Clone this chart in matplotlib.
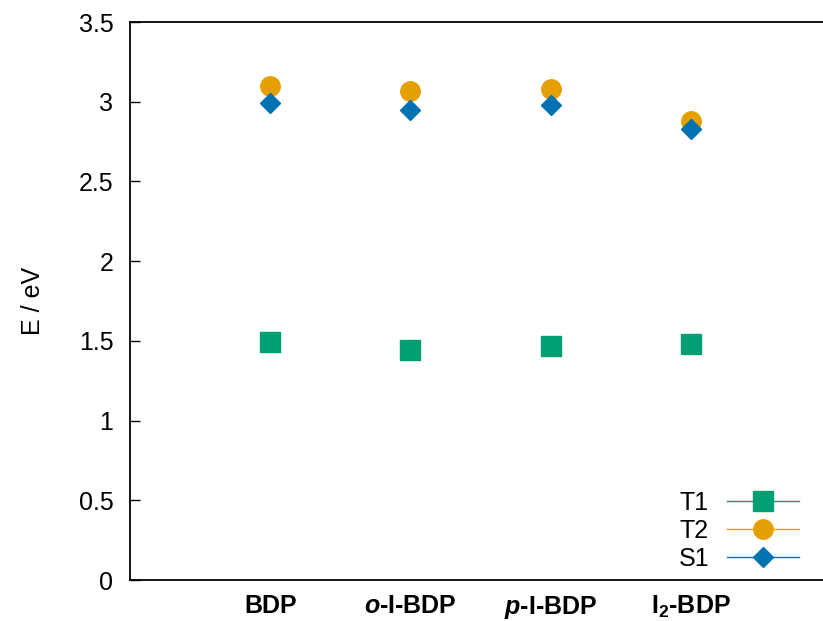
import numpy as np
import matplotlib.pyplot as plt
from matplotlib.lines import Line2D

plt.rcParams['font.family'] = ['Liberation Sans', 'DejaVu Sans']
plt.rcParams['mathtext.fontset'] = 'custom'
plt.rcParams['mathtext.rm'] = 'Liberation Sans:bold'
plt.rcParams['mathtext.it'] = 'Liberation Sans:italic:bold'
plt.rcParams['mathtext.bf'] = 'Liberation Sans:bold'

molecules = ['BDP', r'$\mathit{o}$-I-BDP', r'$\mathit{p}$-I-BDP', r'I$_{2}$-BDP']
t1 = [1.49, 1.44, 1.47, 1.48]
t2 = [3.10, 3.07, 3.08, 2.88]
s1 = [2.99, 2.95, 2.98, 2.83]

x = np.arange(1, len(molecules) + 1)

fig = plt.figure(figsize=(8.23, 6.21), dpi=100)
ax = fig.add_axes([130 / 823, 41 / 621, 701 / 823, 558 / 621])

ax.plot(x, t1, 's', color='#009e73', markersize=14.5, ls='None')
ax.plot(x, t2, 'o', color='#e69f00', markersize=14, ls='None')
ax.plot(x, s1, 'D', color='#0072b2', markersize=9.8, ls='None')

handles = [Line2D([], [], color='#009e73', lw=1, marker='s', markersize=14.5),
           Line2D([], [], color='#e69f00', lw=1, marker='o', markersize=14),
           Line2D([], [], color='#0072b2', lw=1, marker='D', markersize=9.8)]
ax.legend(handles, ['T1', 'T2', 'S1'], loc='lower right', frameon=False,
          markerfirst=False, fontsize=18, handlelength=2.9, labelspacing=0.16,
          handletextpad=0.7, bbox_to_anchor=(799 / 823, 50 / 621),
          bbox_transform=fig.transFigure, borderpad=0, borderaxespad=0)

ax.set_xlim(0, 5)
ax.set_ylim(0, 3.5)
ax.set_yticks(np.arange(0, 3.51, 0.5))
ax.set_yticklabels(['0', '0.5', '1', '1.5', '2', '2.5', '3', '3.5'])
ax.set_xticks(x)
ax.set_xticklabels(molecules, fontweight='bold')
ax.tick_params(axis='y', direction='in', length=7, width=1, labelsize=18, pad=12)
ax.tick_params(axis='x', length=0, labelsize=18, pad=10)
ax.set_ylabel('E / eV', fontsize=18, labelpad=24)

for side in ['left', 'top', 'bottom']:
    ax.spines[side].set_linewidth(1.3)
ax.spines['right'].set_visible(False)

fig.savefig('out.png', dpi=100)
